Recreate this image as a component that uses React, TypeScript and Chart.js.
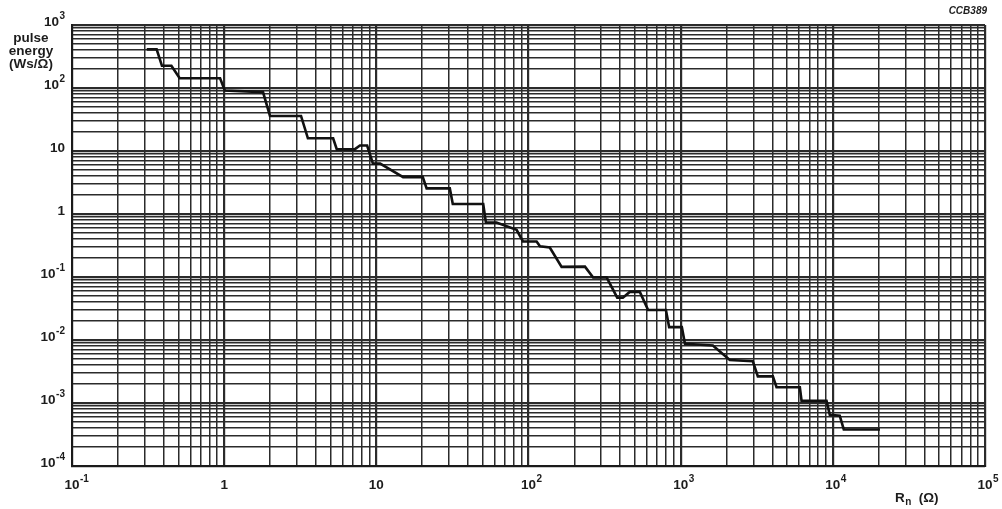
import React, { useEffect, useRef } from "react";
import { Chart, registerables } from "chart.js";

Chart.register(...registerables);

// Resistance R_n (Ω) along the step curve
const resistance = [
  0.31, 0.36, 0.39, 0.45, 0.51, 0.94, 1.01, 1.8, 2.0, 3.2,
  3.55, 5.2, 5.5, 7.2, 7.8, 8.7, 9.5, 10.6, 15.0, 20.2,
  21.4, 30.4, 31.8, 50.4, 52.5, 61.6, 83.5, 92, 113, 119,
  138, 165, 235, 266, 326, 383, 417, 463, 539, 611,
  800, 840, 1018, 1067, 1628, 2104, 2980, 3215, 4035, 4266,
  6070, 6230, 9090, 9550, 11100, 11800, 20400,
];

// Pulse energy (Ws/Ω)
const energy = [
  410, 410, 225, 225, 143, 143, 91, 86, 36, 36,
  15.9, 15.9, 10.6, 10.6, 12.2, 12.2, 6.3, 6.3, 3.85, 3.85,
  2.55, 2.55, 1.44, 1.44, 0.73, 0.73, 0.56, 0.367, 0.367, 0.307,
  0.294, 0.145, 0.146, 0.098, 0.099, 0.047, 0.047, 0.058, 0.058, 0.03,
  0.03, 0.016, 0.016, 0.0087, 0.0082, 0.0048, 0.0046, 0.00265, 0.00265, 0.00178,
  0.00178, 0.00108, 0.00108, 0.00065, 0.00063, 0.00038, 0.00038,
];

// Decade exponents used for tick labels
const xDecades = [-1, 0, 1, 2, 3, 4, 5];
const yDecades = [-4, -3, -2, -1, 0, 1, 2, 3];

const yTitleLines = ["pulse", "energy", "(Ws/Ω)"];
const xTitleMain = "R";
const xTitleSub = "n";
const xTitleUnit = "(Ω)";
const figureCode = "CCB389";

function logTicks(minExp: number, maxExp: number) {
  const t: { value: number; major: boolean }[] = [];
  for (let e = minExp; e < maxExp; e++) {
    for (let m = 1; m <= 9; m++) {
      t.push({ value: m * Math.pow(10, e), major: m === 1 });
    }
  }
  t.push({ value: Math.pow(10, maxExp), major: true });
  return t;
}

const FONT = '"Liberation Sans", Arial, Helvetica, sans-serif';
const f = (size: number, weight = "bold", style = "normal") =>
  `${style} ${weight} ${size}px ${FONT}`;

const textPlugin = {
  id: "axisText",
  afterDraw(chart: any) {
    const ctx = chart.ctx as CanvasRenderingContext2D;
    const xs = chart.scales.x;
    const ys = chart.scales.y;
    ctx.save();
    ctx.fillStyle = "#1c1c1c";
    ctx.textBaseline = "middle";
    ctx.textAlign = "left";

    const parts = (e: number) => {
      const base = e === 0 ? "1" : "10";
      const sup = e === 0 || e === 1 ? "" : String(e);
      return { base, sup };
    };

    // x labels: base centred on the decade line
    xDecades.forEach((e) => {
      const { base, sup } = parts(e);
      const px = xs.getPixelForValue(Math.pow(10, e));
      const y = chart.chartArea.bottom + 19;
      ctx.font = f(13.5);
      const wb = ctx.measureText(base).width;
      const left = px - wb / 2;
      ctx.fillText(base, left, y);
      if (sup) {
        ctx.font = f(10);
        ctx.fillText(sup, left + wb + 0.5, y - 6);
      }
    });

    // y labels: right aligned
    yDecades.forEach((e) => {
      const { base, sup } = parts(e);
      const py = ys.getPixelForValue(Math.pow(10, e)) - 3;
      ctx.font = f(13.5);
      const wb = ctx.measureText(base).width;
      ctx.font = f(10);
      const ws = sup ? ctx.measureText(sup).width + 0.5 : 0;
      const right = chart.chartArea.left - 7;
      const left = right - wb - ws;
      ctx.font = f(13.5);
      ctx.fillText(base, left, py);
      if (sup) {
        ctx.font = f(10);
        ctx.fillText(sup, left + wb + 0.5, py - 6);
      }
    });

    // y title
    ctx.font = f(13.5);
    ctx.textAlign = "center";
    const ty0 = chart.chartArea.top + 13;
    yTitleLines.forEach((s, i) => ctx.fillText(s, 31, ty0 + i * 13));

    // x title R_n (Ω)
    ctx.textAlign = "left";
    const tx = 895;
    const tyy = chart.chartArea.bottom + 32;
    ctx.font = f(13.5);
    ctx.fillText(xTitleMain, tx, tyy);
    const wr = ctx.measureText(xTitleMain).width;
    ctx.font = f(10);
    ctx.fillText(xTitleSub, tx + wr + 0.5, tyy + 4);
    ctx.font = f(13.5);
    ctx.fillText(xTitleUnit, tx + wr + 14, tyy);

    // figure code
    ctx.font = f(10, "bold", "italic");
    ctx.textAlign = "right";
    ctx.fillText(figureCode, chart.chartArea.right + 2, 11);

    ctx.restore();
  },
};

export default function App() {
  const ref = useRef<HTMLCanvasElement | null>(null);

  useEffect(() => {
    if (!ref.current) return;
    const xTicks = logTicks(xDecades[0], xDecades[xDecades.length - 1]);
    const yTicks = logTicks(yDecades[0], yDecades[yDecades.length - 1]);
    const gridWidth = (c: any) => (c.tick && c.tick.major ? 2.2 : 1.5);

    const chart = new Chart(ref.current, {
      type: "line",
      data: {
        datasets: [
          {
            data: resistance.map((r, i) => ({ x: r, y: energy[i] })),
            borderColor: "#111111",
            borderWidth: 2.6,
            pointRadius: 0,
            tension: 0,
            fill: false,
          },
        ],
      },
      options: {
        responsive: false,
        animation: false,
        layout: { padding: { left: 72, right: 17, top: 25, bottom: 43 } },
        plugins: {
          legend: { display: false },
          tooltip: { enabled: false },
        },
        scales: {
          x: {
            type: "logarithmic",
            min: Math.pow(10, xDecades[0]),
            max: Math.pow(10, xDecades[xDecades.length - 1]),
            afterBuildTicks: (s: any) => {
              s.ticks = xTicks.map((t) => ({ ...t }));
            },
            ticks: { display: false },
            grid: { drawTicks: false, color: "#2b2b2b", lineWidth: gridWidth },
            border: { display: true, color: "#1a1a1a", width: 2 },
          },
          y: {
            type: "logarithmic",
            min: Math.pow(10, yDecades[0]),
            max: Math.pow(10, yDecades[yDecades.length - 1]),
            afterBuildTicks: (s: any) => {
              s.ticks = yTicks.map((t) => ({ ...t }));
            },
            ticks: { display: false },
            grid: { drawTicks: false, color: "#2b2b2b", lineWidth: gridWidth },
            border: { display: true, color: "#1a1a1a", width: 2 },
          },
        },
      } as any,
      plugins: [textPlugin],
    });
    return () => chart.destroy();
  }, []);

  return (
    <div
      style={{
        position: "fixed",
        left: 0,
        top: 0,
        width: 1002,
        height: 509,
        background: "#ffffff",
      }}
    >
      <canvas ref={ref} width={1002} height={509} style={{ display: "block" }} />
    </div>
  );
}
